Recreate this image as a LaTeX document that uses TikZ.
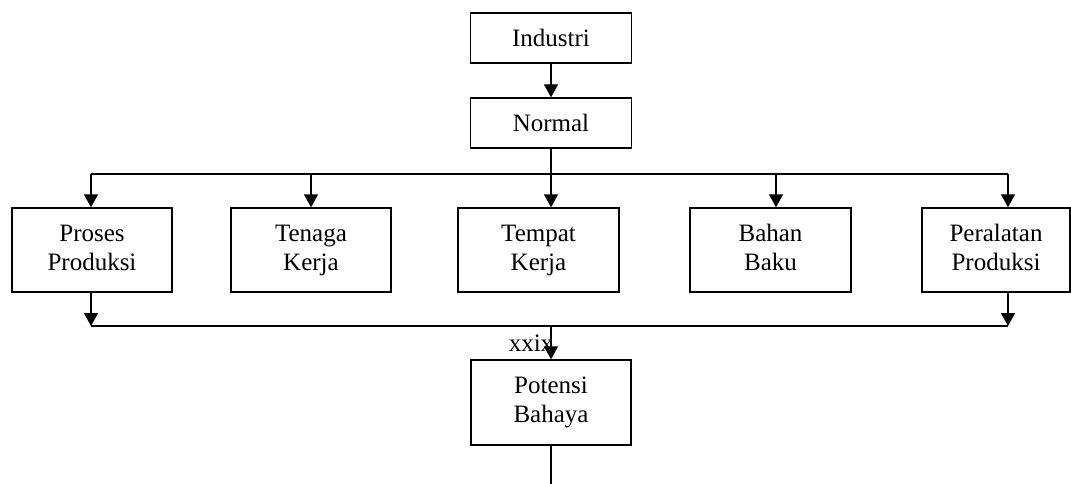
\documentclass[tikz,border=0pt]{standalone}
\usepackage{fontspec}
\setmainfont{Liberation Serif}
\usetikzlibrary{arrows.meta}
\begin{document}
\begin{tikzpicture}[x=1pt,y=-1pt,
  box/.style={draw,line width=1.4pt,minimum height=84pt,minimum width=160pt,inner sep=0pt,align=center,
    font=\fontsize{25}{29}\selectfont},
  sbox/.style={box,minimum height=50pt,text height=20pt,text depth=2pt},
  conn/.style={line width=1.4pt},
  arr/.style={conn,-{Triangle[length=13pt,width=14pt]}}]
\useasboundingbox (0,0) rectangle (1071,484);
\node[sbox,minimum width=161pt] (ind) at (551,38) {Industri};
\node[sbox,minimum width=161pt] (nor) at (551,123) {Normal};
\node[box] (pro) at (92,250) {\strut Proses\\\strut Produksi};
\node[box] (ten) at (311,250) {\strut Tenaga\\\strut Kerja};
\node[box,minimum width=161pt] (tem) at (538.5,250) {\strut Tempat\\\strut Kerja};
\node[box,minimum width=161pt] (bah) at (770.5,250) {\strut Bahan\\\strut Baku};
\node[box,minimum width=148pt] (per) at (996,250) {\strut Peralatan\\\strut Produksi};
\node[box,minimum height=85pt] (pot) at (551,402.5) {\strut Potensi\\\strut Bahaya};
\node[font=\fontsize{25}{29}\selectfont,inner sep=0pt,anchor=base] (lbl) at (531,351) {xxix};
\coordinate (t1) at (91,174);
\coordinate (t2) at (311,174);
\coordinate (t3) at (551,174);
\coordinate (t4) at (776,174);
\coordinate (t5) at (1008,174);
\coordinate (b1) at (91,326);
\coordinate (b3) at (551,326);
\coordinate (b5) at (1008,326);
\coordinate (end) at (551,484);
\draw[arr] (ind.south) -- (nor.north);
\draw[conn] (nor.south) -- (t3);
\draw[conn] (t1) -- (t5);
\draw[arr] (t1) -- (t1 |- pro.north);
\draw[arr] (t2) -- (t2 |- ten.north);
\draw[arr] (t3) -- (t3 |- tem.north);
\draw[arr] (t4) -- (t4 |- bah.north);
\draw[arr] (t5) -- (t5 |- per.north);
\draw[arr] (b1 |- pro.south) -- (b1);
\draw[arr] (b5 |- per.south) -- (b5);
\draw[conn] (b1) -- (b5);
\draw[arr] (b3) -- (pot.north);
\draw[conn] (pot.south) -- (end);
\end{tikzpicture}
\end{document}
